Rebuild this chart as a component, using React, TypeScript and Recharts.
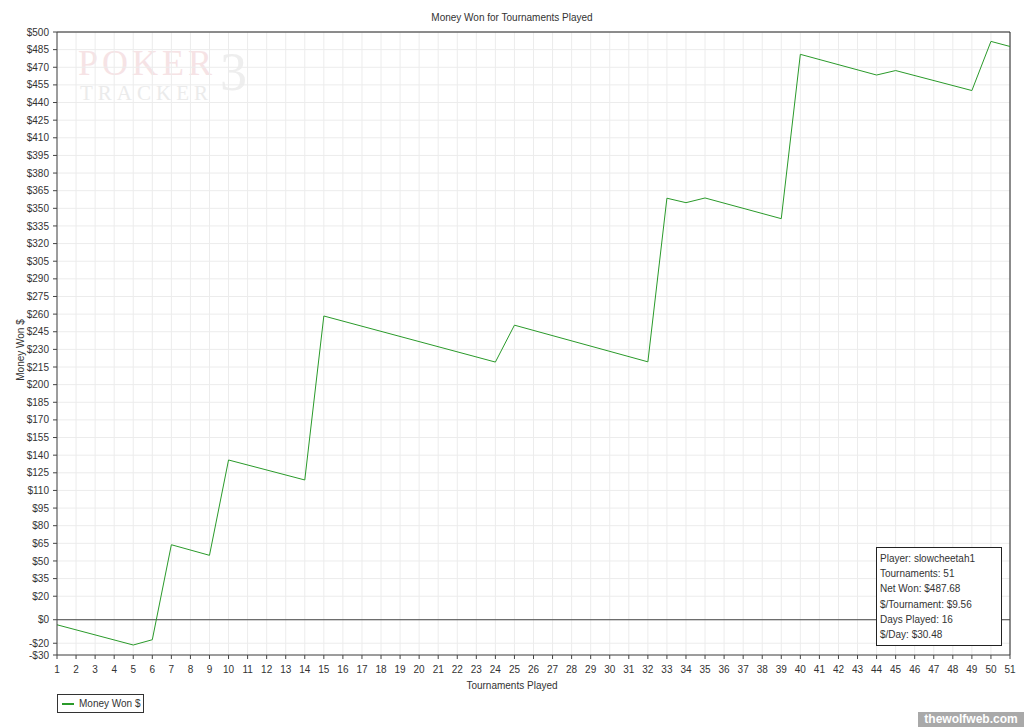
import { LineChart, Line, XAxis, YAxis, CartesianGrid, ReferenceLine } from "recharts";

// vertices of the cumulative line (tournament number -> money won)
const tournaments = [1, 5, 6, 7, 9, 10, 14, 15, 24, 25, 32, 33, 34, 35, 39, 40, 44, 45, 49, 50, 51];
const moneyWon = [
  -4.3, -21.5, -17, 63.8, 54.8, 135.9, 118.9, 258.4, 219.2, 250.6, 219.4,
  358.6, 354.8, 358.8, 341.2, 481, 463.4, 467.2, 450.2, 492, 487.68,
];

const xTicks = Array.from({ length: 51 }, (_, i) => i + 1);
const yTicks = [
  -30, -20, 0, 20, 35, 50, 65, 80, 95, 110, 125, 140, 155, 170, 185, 200, 215,
  230, 245, 260, 275, 290, 305, 320, 335, 350, 365, 380, 395, 410, 425, 440,
  455, 470, 485, 500,
];

const statLines = [
  "Player: slowcheetah1",
  "Tournaments: 51",
  "Net Won: $487.68",
  "$/Tournament: $9.56",
  "Days Played: 16",
  "$/Day: $30.48",
];

const data = tournaments.map((t, i) => ({ t, won: moneyWon[i] }));

const FONT = "'Liberation Sans', Arial, sans-serif";
const SERIF = "'Liberation Serif', 'DejaVu Serif', serif";
const GREEN = "#2a9a2a";

const money = (v: number) => (v < 0 ? `-$${Math.abs(v)}` : `$${v}`);

export default function App() {
  return (
    <div
      style={{
        position: "absolute",
        left: 0,
        top: 0,
        width: 1024,
        height: 727,
        background: "#fff",
        fontFamily: FONT,
        color: "#333",
        overflow: "hidden",
      }}
    >
      {/* faded logo behind the plot */}
      <div style={{ position: "absolute", left: 78, top: 44, width: 170, height: 70, pointerEvents: "none" }}>
        <div
          style={{
            position: "absolute",
            left: 0,
            top: 0,
            fontFamily: SERIF,
            fontSize: 36,
            letterSpacing: 4,
            color: "#f6e3e5",
            lineHeight: "38px",
          }}
        >
          POKER
        </div>
        <div
          style={{
            position: "absolute",
            left: 2,
            top: 38,
            fontFamily: SERIF,
            fontSize: 21,
            letterSpacing: 5,
            color: "#ebebeb",
            lineHeight: "22px",
          }}
        >
          TRACKER
        </div>
        <div
          style={{
            position: "absolute",
            left: 142,
            top: -2,
            fontFamily: SERIF,
            fontSize: 54,
            color: "#eeeeee",
            lineHeight: "60px",
          }}
        >
          3
        </div>
      </div>

      <div style={{ position: "absolute", left: 0, top: 0 }}>
        <LineChart
          width={1024}
          height={727}
          data={data}
          margin={{ top: 32, right: 14, left: 0, bottom: 0 }}
        >
          <CartesianGrid stroke="#ececec" strokeWidth={1} />
          <XAxis
            type="number"
            dataKey="t"
            domain={[1, 51]}
            ticks={xTicks}
            interval={0}
            height={72}
            stroke="#444"
            tickSize={4}
            tickMargin={7}
            tick={{ fontSize: 10, fill: "#333", fontFamily: FONT }}
            tickLine={{ stroke: "#444" }}
          />
          <YAxis
            type="number"
            domain={[-30, 500]}
            ticks={yTicks}
            interval={0}
            width={57}
            stroke="#444"
            tickSize={4}
            tickMargin={4}
            tickFormatter={money}
            tick={{ fontSize: 10, fill: "#333", fontFamily: FONT }}
          />
          <ReferenceLine y={500} stroke="#222" />
          <ReferenceLine x={51} stroke="#222" />
          <ReferenceLine y={0} stroke="#444" />
          <Line
            type="linear"
            dataKey="won"
            stroke={GREEN}
            strokeWidth={1}
            dot={false}
            isAnimationActive={false}
          />
        </LineChart>
      </div>

      {/* title */}
      <div
        style={{
          position: "absolute",
          top: 12,
          left: 0,
          width: 1024,
          textAlign: "center",
          fontSize: 10,
        }}
      >
        Money Won for Tournaments Played
      </div>

      {/* axis titles */}
      <div
        style={{
          position: "absolute",
          top: 680,
          left: 0,
          width: 1024,
          textAlign: "center",
          fontSize: 10,
        }}
      >
        Tournaments Played
      </div>
      <div
        style={{
          position: "absolute",
          left: 20,
          top: 350,
          transform: "translate(-50%, -50%) rotate(-90deg)",
          fontSize: 10,
          whiteSpace: "nowrap",
        }}
      >
        Money Won $
      </div>

      {/* legend */}
      <div
        style={{
          position: "absolute",
          left: 57,
          top: 694,
          width: 87,
          height: 19,
          border: "1px solid #333",
          boxSizing: "border-box",
          display: "flex",
          alignItems: "center",
          fontSize: 10,
          whiteSpace: "nowrap",
          background: "#fff",
        }}
      >
        <span
          style={{
            display: "inline-block",
            flexShrink: 0,
            width: 12,
            height: 2,
            background: GREEN,
            marginLeft: 4,
            marginRight: 5,
          }}
        />
        <span>Money Won $</span>
      </div>

      {/* stats box */}
      <div
        style={{
          position: "absolute",
          left: 876,
          top: 547,
          width: 126,
          height: 99,
          border: "1px solid #222",
          boxSizing: "border-box",
          background: "#fff",
          padding: "3px 0 0 3px",
          fontSize: 10,
          lineHeight: "15.2px",
          whiteSpace: "nowrap",
        }}
      >
        {statLines.map((s) => (
          <div key={s}>{s}</div>
        ))}
      </div>

      {/* site watermark */}
      <div
        style={{
          position: "absolute",
          left: 918,
          top: 712,
          width: 106,
          height: 15,
          background: "#a9a9a9",
          color: "#fff",
          fontWeight: "bold",
          fontSize: 12,
          lineHeight: "15px",
          textAlign: "center",
          whiteSpace: "nowrap",
          fontFamily: FONT,
        }}
      >
        thewolfweb.com
      </div>
    </div>
  );
}
